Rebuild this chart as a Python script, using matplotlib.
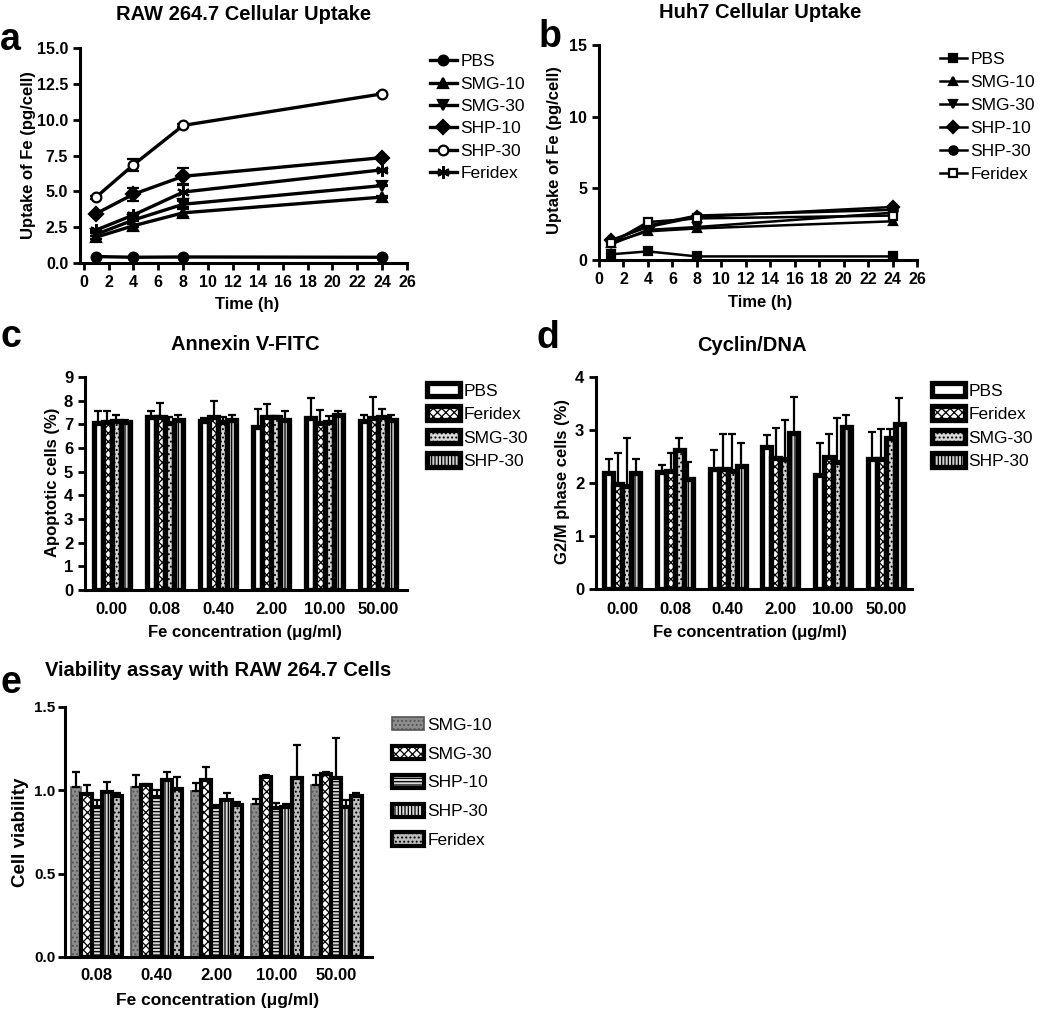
import numpy as np
import matplotlib.pyplot as plt

plt.rcParams['font.family'] = ['Liberation Sans', 'DejaVu Sans']
plt.rcParams['font.weight'] = 'bold'
plt.rcParams['axes.linewidth'] = 2.2
plt.rcParams['hatch.linewidth'] = 0.9

# ---- panel a: RAW 264.7 uptake ----
time_h = [1, 4, 8, 24]
line_names = ["PBS", "SMG-10", "SMG-30", "SHP-10", "SHP-30", "Feridex"]
raw_pbs = [0.45, 0.40, 0.42, 0.40]
raw_smg10 = [1.8, 2.6, 3.5, 4.6]
raw_smg30 = [2.0, 3.0, 4.1, 5.4]
raw_shp10 = [3.45, 4.8, 6.05, 7.35]
raw_shp30 = [4.6, 6.85, 9.6, 11.8]
raw_feridex = [2.3, 3.35, 4.95, 6.5]
raw_smg10_err = [0.1, 0.1, 0.3, 0.05]
raw_smg30_err = [0.1, 0.1, 0.2, 0.05]
raw_shp10_err = [0.05, 0.45, 0.55, 0.05]
raw_shp30_err = [0.1, 0.4, 0.1, 0.05]
raw_feridex_err = [0.1, 0.15, 0.5, 0.05]

# ---- panel b: Huh7 uptake ----
huh_pbs = [0.4, 0.6, 0.25, 0.25]
huh_smg10 = [1.2, 2.0, 2.2, 2.7]
huh_smg30 = [1.1, 2.1, 2.3, 3.3]
huh_shp10 = [1.4, 2.3, 3.0, 3.7]
huh_shp30 = [1.3, 2.4, 3.1, 3.5]
huh_feridex = [1.2, 2.65, 2.9, 3.1]

# ---- panel c: Annexin V-FITC ----
conc_c = ["0.00", "0.08", "0.40", "2.00", "10.00", "50.00"]
bar_names_cd = ["PBS", "Feridex", "SMG-30", "SHP-30"]
ann_pbs = [7.05, 7.3, 7.15, 6.9, 7.25, 7.15]
ann_feridex = [7.1, 7.3, 7.3, 7.3, 7.05, 7.25]
ann_smg30 = [7.15, 7.05, 7.1, 7.3, 7.1, 7.3]
ann_shp30 = [7.1, 7.2, 7.2, 7.2, 7.4, 7.2]
ann_pbs_err = [0.5, 0.25, 0.1, 0.75, 0.85, 0.25]
ann_feridex_err = [0.45, 0.6, 0.7, 0.55, 0.55, 0.9]
ann_smg30_err = [0.25, 0.25, 0.2, 0.05, 0.25, 0.35]
ann_shp30_err = [0.1, 0.2, 0.2, 0.35, 0.15, 0.2]

# ---- panel d: Cyclin/DNA ----
cyc_pbs = [2.18, 2.2, 2.27, 2.68, 2.15, 2.45]
cyc_feridex = [1.99, 2.23, 2.27, 2.48, 2.5, 2.46]
cyc_smg30 = [1.95, 2.62, 2.23, 2.45, 2.4, 2.84]
cyc_shp30 = [2.19, 2.08, 2.32, 2.95, 3.05, 3.12]
cyc_pbs_err = [0.28, 0.14, 0.35, 0.23, 0.6, 0.52]
cyc_feridex_err = [0.57, 0.34, 0.65, 0.55, 0.43, 0.55]
cyc_smg30_err = [0.9, 0.23, 0.7, 0.73, 0.82, 0.18]
cyc_shp30_err = [0.26, 0.32, 0.44, 0.67, 0.23, 0.49]

# ---- panel e: viability ----
conc_e = ["0.08", "0.40", "2.00", "10.00", "50.00"]
bar_names_e = ["SMG-10", "SMG-30", "SHP-10", "SHP-30", "Feridex"]
via_smg10 = [1.02, 1.02, 0.995, 0.92, 1.03]
via_smg30 = [0.98, 1.03, 1.06, 1.08, 1.10]
via_shp10 = [0.90, 0.96, 0.90, 0.895, 1.075]
via_shp30 = [0.99, 1.06, 0.945, 0.90, 0.90]
via_feridex = [0.965, 1.01, 0.915, 1.075, 0.965]
via_smg10_err = [0.09, 0.07, 0.05, 0.03, 0.06]
via_smg30_err = [0.05, 0.01, 0.08, 0.01, 0.01]
via_shp10_err = [0.04, 0.04, 0.01, 0.03, 0.24]
via_shp30_err = [0.06, 0.05, 0.04, 0.02, 0.04]
via_feridex_err = [0.02, 0.07, 0.015, 0.2, 0.02]

W, H = 1050, 1014
fig = plt.figure(figsize=(10.5, 10.14), dpi=100)


def fx(px):
    return px / W


def fy(py):
    return 1 - py / H


def axes_px(left, top, right, bottom):
    return fig.add_axes([fx(left), fy(bottom), (right - left) / W, (bottom - top) / H])


def style(ax, size=11.5):
    ax.spines['top'].set_visible(False)
    ax.spines['right'].set_visible(False)
    ax.tick_params(width=2, length=5, labelsize=size, direction='out')


def legend_at(ax, x, y, size, **kw):
    ax.legend(loc='upper left', bbox_to_anchor=(fx(x), fy(y)), bbox_transform=fig.transFigure,
              frameon=False, borderpad=0, borderaxespad=0, handletextpad=0.2,
              prop={'weight': 'normal', 'size': size}, **kw)


def line_panel(ax, series, errs, markers, fills, lw, ms):
    for name, vals, err, mk, fc in zip(line_names, series, errs, markers, fills):
        size = ms + 2 if mk == (6, 2, 0) else ms
        ax.plot(time_h, vals, color='k', lw=lw, marker=mk, ms=size, mfc=fc, mec='k',
                mew=1.6, label=name, clip_on=False, zorder=3)
        if err is not None:
            ax.errorbar(time_h, vals, yerr=err, fmt='none', ecolor='k', elinewidth=1.6,
                        capsize=4, capthick=1.6, zorder=2)


def bar_panel(ax, groups, series, errs, styles, width, names, edge_lw):
    x = np.arange(len(groups))
    n = len(series)
    for i, (vals, err, st, nm) in enumerate(zip(series, errs, styles, names)):
        off = (i - (n - 1) / 2) * width
        ax.bar(x + off, vals, width, color=st['fc'], hatch=st.get('hatch'),
               edgecolor=st.get('edgecolor', 'k'), linewidth=st.get('lw', edge_lw),
               label=nm, zorder=2)
        ax.errorbar(x + off, vals, yerr=[np.zeros(len(vals)), err], fmt='none', ecolor='k',
                    elinewidth=1.6, capsize=3, capthick=1.6, zorder=3)
    ax.set_xticks(x, groups)


# panel a
ax_a = axes_px(80, 48, 407, 263)
line_panel(ax_a, [raw_pbs, raw_smg10, raw_smg30, raw_shp10, raw_shp30, raw_feridex],
           [None, raw_smg10_err, raw_smg30_err, raw_shp10_err, raw_shp30_err, raw_feridex_err],
           ['o', '^', 'v', 'D', 'o', (6, 2, 0)], ['k', 'k', 'k', 'k', 'white', 'k'], 2.4, 7)
ax_a.set_xlim(-0.3, 26)
ax_a.set_ylim(0, 15)
ax_a.set_xticks(range(0, 27, 2))
ax_a.set_yticks(np.arange(0, 15.1, 2.5))
ax_a.yaxis.set_major_formatter(plt.FuncFormatter(lambda v, p: "%.1f" % v))
style(ax_a)
legend_at(ax_a, 430, 54, 12.5, handlelength=1.55, labelspacing=0.42)

# panel b
ax_b = axes_px(599, 45, 917, 260)
line_panel(ax_b, [huh_pbs, huh_smg10, huh_smg30, huh_shp10, huh_shp30, huh_feridex],
           [None] * 6, ['s', '^', 'v', 'D', 'o', 's'], ['k', 'k', 'k', 'k', 'k', 'white'], 1.8, 6)
ax_b.set_xlim(0, 26)
ax_b.set_ylim(0, 15)
ax_b.set_xticks(range(0, 27, 2))
ax_b.set_yticks([0, 5, 10, 15])
style(ax_b)
legend_at(ax_b, 940, 52, 12.5, handlelength=1.55, labelspacing=0.45)

# bar styles
cd_styles = [dict(fc='white'), dict(fc='white', hatch='xxxx'),
             dict(fc='#d8d8d8', hatch='....'), dict(fc='#d0d0d0', hatch='|||||')]

# panel c
ax_c = axes_px(85, 377, 407, 590)
bar_panel(ax_c, conc_c, [ann_pbs, ann_feridex, ann_smg30, ann_shp30],
          [ann_pbs_err, ann_feridex_err, ann_smg30_err, ann_shp30_err], cd_styles, 0.17,
          bar_names_cd, 3.8)
ax_c.set_xlim(-0.5, 5.55)
ax_c.set_ylim(0, 9)
ax_c.set_yticks(range(0, 10))
style(ax_c, 12)
ax_c.tick_params(axis='x', length=0, pad=9)
legend_at(ax_c, 427, 383, 12.5, handlelength=1.9, handleheight=0.8, labelspacing=0.45)

# panel d
ax_d = axes_px(596, 377, 912, 589)
bar_panel(ax_d, conc_c, [cyc_pbs, cyc_feridex, cyc_smg30, cyc_shp30],
          [cyc_pbs_err, cyc_feridex_err, cyc_smg30_err, cyc_shp30_err], cd_styles, 0.17,
          bar_names_cd, 3.8)
ax_d.set_xlim(-0.5, 5.5)
ax_d.set_ylim(0, 4)
ax_d.set_yticks(range(0, 5))
style(ax_d, 12)
ax_d.tick_params(axis='x', length=0, pad=9)
legend_at(ax_d, 932, 383, 12.5, handlelength=1.9, handleheight=0.8, labelspacing=0.45)

# panel e
e_styles = [dict(fc='#8c8c8c', hatch='....', edgecolor='#555555', lw=1.2),
            dict(fc='white', hatch='xxxx'), dict(fc='#d8d8d8', hatch='-----'),
            dict(fc='#d8d8d8', hatch='|||||'), dict(fc='#bdbdbd', hatch='....')]
ax_e = axes_px(65, 707, 372, 957)
bar_panel(ax_e, conc_e, [via_smg10, via_smg30, via_shp10, via_shp30, via_feridex],
          [via_smg10_err, via_smg30_err, via_shp10_err, via_shp30_err, via_feridex_err],
          e_styles, 0.17, bar_names_e, 3.0)
ax_e.set_xlim(-0.53, 4.6)
ax_e.set_ylim(0, 1.5)
ax_e.set_yticks([0, 0.5, 1.0, 1.5])
ax_e.yaxis.set_major_formatter(plt.FuncFormatter(lambda v, p: "%.1f" % v))
style(ax_e, 11)
ax_e.tick_params(axis='y', pad=2)
ax_e.tick_params(axis='x', length=0, pad=8, labelsize=12)
legend_at(ax_e, 392, 717, 12.5, handlelength=1.85, handleheight=0.8, labelspacing=0.76)

# titles, panel letters and axis labels
fig.text(fx(244), fy(15), "RAW 264.7 Cellular Uptake", ha='center', va='center', fontsize=14.5)
fig.text(fx(760), fy(13), "Huh7 Cellular Uptake", ha='center', va='center', fontsize=14.5)
fig.text(fx(245), fy(344), "Annexin V-FITC", ha='center', va='center', fontsize=14.5)
fig.text(fx(752), fy(345), "Cyclin/DNA", ha='center', va='center', fontsize=14.5)
fig.text(fx(218), fy(671), "Viability assay with RAW 264.7 Cells", ha='center', va='center',
         fontsize=14.5)

for letter, x, y in [("a", 10, 40), ("b", 550, 37), ("c", 11, 337), ("d", 548, 338), ("e", 11, 683)]:
    fig.text(fx(x), fy(y), letter, ha='center', va='center', fontsize=27)

fig.text(fx(28), fy(155), "Uptake of Fe (pg/cell)", rotation=90, ha='center', va='center', fontsize=12)
fig.text(fx(555), fy(150), "Uptake of Fe (pg/cell)", rotation=90, ha='center', va='center', fontsize=12)
fig.text(fx(53), fy(482), "Apoptotic cells (%)", rotation=90, ha='center', va='center', fontsize=12)
fig.text(fx(562), fy(482), "G2/M phase cells (%)", rotation=90, ha='center', va='center', fontsize=12)
fig.text(fx(21), fy(832), "Cell viability", rotation=90, ha='center', va='center', fontsize=13.5)

fig.text(fx(247), fy(305), "Time (h)", ha='center', va='center', fontsize=12)
fig.text(fx(760), fy(302), "Time (h)", ha='center', va='center', fontsize=12)
fig.text(fx(245), fy(633), "Fe concentration (\u03bcg/ml)", ha='center', va='center', fontsize=12)
fig.text(fx(750), fy(633), "Fe concentration (\u03bcg/ml)", ha='center', va='center', fontsize=12)
fig.text(fx(218), fy(1000), "Fe concentration (\u03bcg/ml)", ha='center', va='center', fontsize=12.5)

fig.savefig("out.png", dpi=100)
